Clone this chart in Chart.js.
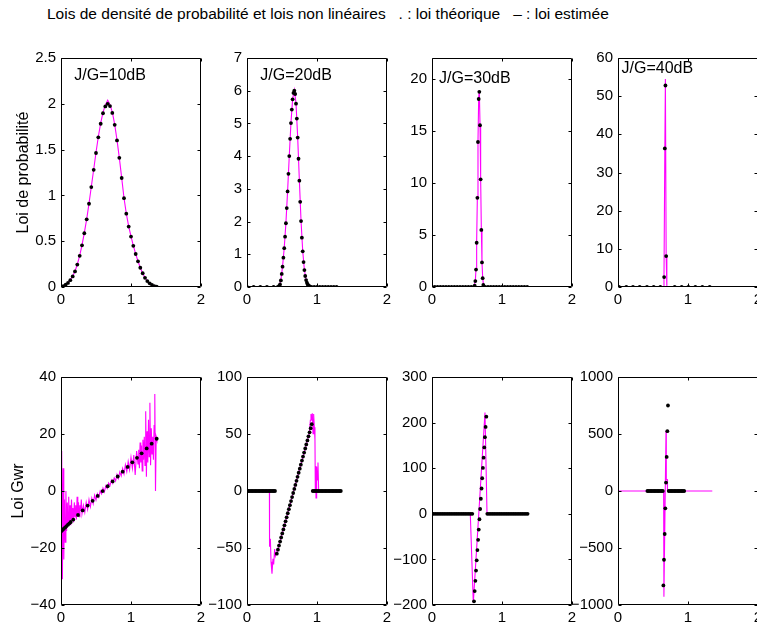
<!DOCTYPE html>
<html>
<head>
<meta charset="utf-8">
<script src="https://cdn.jsdelivr.net/npm/chart.js@4.4.1/dist/chart.umd.min.js"></script>
<style>
  html, body { margin: 0; padding: 0; background: #fff; overflow: hidden; width: 757px; height: 623px; }
  #page { position: relative; width: 757px; height: 623px; overflow: hidden; background: #fff; }
  #page canvas { position: absolute; }
  #titre { position: absolute; left: 47px; top: 6px; font: 15.5px "Liberation Sans", Arial, sans-serif;
           line-height: 1; white-space: pre; color: #000; }
</style>
</head>
<body>
<div id="page">
  <div id="titre">Lois de densité de probabilité et lois non linéaires   . : loi théorique   – : loi estimée</div>
</div>
<script>
// ---------- tick labels ----------
const xTicks = [0, 1, 2];
const yTicksDensite10 = [0, 0.5, 1, 1.5, 2, 2.5];
const yTicksDensite20 = [0, 1, 2, 3, 4, 5, 6, 7];
const yTicksDensite30 = [0, 5, 10, 15, 20];
const yTicksDensite40 = [0, 10, 20, 30, 40, 50, 60];
const yTicksGwr10 = [-40, -20, 0, 20, 40];
const yTicksGwr20 = [-100, -50, 0, 50, 100];
const yTicksGwr30 = [-200, -100, 0, 100, 200, 300];
const yTicksGwr40 = [-1000, -500, 0, 500, 1000];

// ---------- densité, J/G = 10 dB ----------
const densite10X = [0, 0.033, 0.067, 0.1, 0.133, 0.167, 0.2, 0.233, 0.267, 0.3, 0.333, 0.367, 0.4, 0.433,
  0.467, 0.5, 0.533, 0.567, 0.6, 0.633, 0.667, 0.7, 0.733, 0.767, 0.8, 0.833, 0.867, 0.9, 0.933, 0.967,
  1.0, 1.033, 1.067, 1.1, 1.133, 1.167, 1.2, 1.233, 1.267, 1.3, 1.333, 1.367];
const densite10Theo = [0, 0.01, 0.025, 0.045, 0.075, 0.115, 0.17, 0.245, 0.34, 0.455, 0.587, 0.739, 0.909, 1.091,
  1.279, 1.463, 1.634, 1.782, 1.897, 1.971, 2.0, 1.975, 1.9, 1.77, 1.6, 1.41, 1.19, 0.97, 0.8, 0.66,
  0.55, 0.45, 0.36, 0.28, 0.21, 0.15, 0.1, 0.065, 0.04, 0.022, 0.01, 0.004];
const densite10Est = [0, 0.012, 0.027, 0.046, 0.077, 0.118, 0.172, 0.247, 0.343, 0.458, 0.59, 0.742, 0.912, 1.094,
  1.283, 1.468, 1.64, 1.79, 1.906, 1.985, 2.04, 1.99, 1.91, 1.775, 1.605, 1.412, 1.192, 0.972, 0.802, 0.662,
  0.552, 0.452, 0.361, 0.281, 0.211, 0.151, 0.101, 0.066, 0.041, 0.023, 0.011, 0.005];

// ---------- densité, J/G = 20 dB ----------
const densite20X = [0, 0.095, 0.19, 0.285, 0.38, 0.44,
  0.46, 0.472, 0.484, 0.496, 0.508, 0.52, 0.532, 0.544, 0.556, 0.568, 0.58, 0.592, 0.604, 0.616, 0.628,
  0.64, 0.652, 0.664, 0.676, 0.688, 0.7, 0.712, 0.724, 0.736, 0.748, 0.76, 0.772, 0.784, 0.796, 0.808,
  0.82, 0.832, 0.844, 0.856, 0.868, 0.88, 0.892,
  0.92, 0.96, 1.0, 1.04, 1.08, 1.12, 1.16, 1.2, 1.24, 1.28];
const densite20Theo = [0, 0, 0, 0, 0, 0,
  0.03, 0.08, 0.2, 0.4, 0.62, 0.896, 1.187, 1.538, 1.948, 2.412, 2.921, 3.458, 4.002, 4.53, 5.012,
  5.422, 5.736, 5.933, 6.0, 5.899, 5.604, 5.147, 4.568, 3.92, 3.249, 2.603, 2.016, 1.509, 1.092, 0.763,
  0.516, 0.337, 0.213, 0.13, 0.076, 0.044, 0.024,
  0, 0, 0, 0, 0, 0, 0, 0, 0, 0];
const densite20EstX = [0, 0.44, 0.46, 0.484, 0.508, 0.532, 0.556, 0.58, 0.604, 0.628, 0.652, 0.676, 0.7,
  0.724, 0.748, 0.772, 0.796, 0.82, 0.844, 0.868, 0.892, 0.92, 1.3];
const densite20Est = [0, 0, 0.04, 0.21, 0.63, 1.2, 1.96, 2.93, 4.01, 5.02, 5.75, 6.02, 5.62,
  4.58, 3.26, 2.02, 1.1, 0.52, 0.22, 0.08, 0.03, 0, 0];

// ---------- densité, J/G = 30 dB ----------
const densite30X = [0, 0.04, 0.08, 0.12, 0.16, 0.2, 0.24, 0.28, 0.32, 0.36, 0.4, 0.44, 0.48, 0.52, 0.56, 0.6,
  0.61, 0.619, 0.629, 0.638, 0.648, 0.657, 0.667, 0.676, 0.686, 0.695, 0.705, 0.714, 0.724, 0.733,
  0.76, 0.8, 0.84, 0.88, 0.92, 0.96, 1.0, 1.04, 1.08, 1.12, 1.16, 1.2, 1.24, 1.28, 1.32, 1.36];
const densite30Theo = [0, 0, 0, 0, 0, 0, 0, 0, 0, 0, 0, 0, 0, 0, 0, 0,
  0.12, 0.57, 1.67, 4.25, 8.57, 13.93, 18.06, 18.75, 15.54, 10.34, 5.48, 2.36, 0.85, 0.2,
  0, 0, 0, 0, 0, 0, 0, 0, 0, 0, 0, 0, 0, 0, 0, 0];
const densite30EstX = [0, 0.6, 0.619, 0.629, 0.638, 0.648, 0.657, 0.667, 0.676, 0.686, 0.695, 0.705, 0.714,
  0.724, 0.738, 1.36];
const densite30Est = [0, 0, 0.6, 1.8, 4.4, 8.7, 14.0, 18.2, 18.9, 15.6, 10.4, 5.5, 2.4, 0.9, 0, 0];

// ---------- densité, J/G = 40 dB ----------
const densite40X = [0.014, 0.119, 0.214, 0.31, 0.414, 0.51, 0.605, 0.659, 0.669, 0.678, 0.688,
  0.81, 0.91, 1.005, 1.105, 1.205, 1.31];
const densite40Theo = [0, 0, 0, 0, 0, 0, 0, 2.6, 36.3, 52.8, 8.1, 0, 0, 0, 0, 0, 0];
const densite40EstX = [0, 0.645, 0.657, 0.669, 0.677, 0.688, 0.698, 1.31];
const densite40Est = [0, 0, 2.5, 36, 54.5, 8, 0, 0];

// ---------- loi Gwr, J/G = 10 dB ----------
const gwr10X = [0, 0.02, 0.04, 0.06, 0.08, 0.1, 0.12, 0.14, 0.176, 0.243, 0.31, 0.381, 0.452, 0.524, 0.595,
  0.667, 0.738, 0.81, 0.881, 0.952, 1.019, 1.086, 1.152, 1.224, 1.295, 1.367];
const gwr10Theo = [-14.2, -13.72, -13.25, -12.77, -12.3, -11.82, -11.34, -10.87, -10.01, -8.42, -6.82, -5.13,
  -3.44, -1.73, -0.04, 1.67, 3.36, 5.08, 6.77, 8.46, 10.05, 11.65, 13.22, 14.93, 16.62, 18.33];
const gwr10EstX = [0, 0.01, 0.02, 0.03, 0.04, 0.05, 0.06, 0.07, 0.08, 0.09, 0.1, 0.11, 0.12, 0.13, 0.14, 0.15,
  0.16, 0.17, 0.18, 0.19, 0.2, 0.21, 0.22, 0.23, 0.24, 0.25, 0.26, 0.27, 0.28, 0.29, 0.3,
  0.32, 0.34, 0.36, 0.38, 0.4, 0.42, 0.44, 0.46, 0.48, 0.5, 0.52, 0.54, 0.56, 0.58, 0.6, 0.62, 0.64, 0.66,
  0.68, 0.7, 0.72, 0.74, 0.76, 0.78, 0.8, 0.82, 0.84, 0.86, 0.88, 0.9, 0.92, 0.94, 0.96, 0.98, 1.0, 1.02,
  1.04, 1.06, 1.08, 1.1,
  1.11, 1.12, 1.13, 1.14, 1.15, 1.16, 1.17, 1.18, 1.19, 1.2, 1.21, 1.22, 1.23, 1.24, 1.25, 1.26, 1.27,
  1.28, 1.29, 1.3, 1.31, 1.32, 1.33, 1.34, 1.35, 1.36, 1.37];
const gwr10Est = [-14, 14, -31, 8, -24, -3, -18, 0, -14, -4, -12, -2, -11, -5, -12, -3,
  -10, -6, -11, -4, -9, -5, -10, -2, -8, -4, -9, -5, -7, -3, -8,
  -5, -7.5, -4, -6.5, -3, -5.5, -2.5, -4.5, -1.5, -3.2, -1, -2.2, 0, -1, 1, -0.3, 1.8, 0.9,
  2.8, 1.9, 3.8, 2.7, 4.6, 3.5, 5.8, 4.4, 6.7, 5.3, 7.9, 6.0, 9.2, 6.8, 10.3, 7.5, 11.8, 8.0,
  12.6, 5.6, 14.0, 9.5,
  14.5, 8, 17, 10, 16, 7, 18, 11, 19, 9, 28, 5, 21, 10, 25, 12, 31,
  9, 22, 13, 19, 11, 23, 34, 0, 19, 18];

// ---------- loi Gwr, J/G = 20 dB ----------
const gwr20X = [0, 0.02, 0.04, 0.06, 0.08, 0.1, 0.12, 0.14, 0.16, 0.18, 0.2, 0.22, 0.24, 0.26, 0.28, 0.3,
  0.32, 0.34, 0.36, 0.38, 0.4,
  0.426, 0.442, 0.457, 0.473, 0.488, 0.504, 0.52, 0.535, 0.551, 0.566, 0.582, 0.598, 0.613, 0.629, 0.644,
  0.66, 0.676, 0.691, 0.707, 0.722, 0.738, 0.754, 0.769, 0.785, 0.8, 0.816, 0.832, 0.847, 0.863, 0.878,
  0.894, 0.91, 0.925,
  0.94, 0.96, 0.98, 1.0, 1.02, 1.04, 1.06, 1.08, 1.1, 1.12, 1.14, 1.16, 1.18, 1.2, 1.22, 1.24, 1.26, 1.28,
  1.3, 1.32, 1.34];
const gwr20Theo = [0, 0, 0, 0, 0, 0, 0, 0, 0, 0, 0, 0, 0, 0, 0, 0, 0, 0, 0, 0, 0,
  -55, -51.45, -47.9, -44.35, -40.8, -37.25, -33.7, -30.15, -26.6, -23.05, -19.5, -15.95, -12.4, -8.85, -5.3,
  -1.75, 1.8, 5.35, 8.9, 12.45, 16, 19.55, 23.1, 26.65, 30.2, 33.75, 37.3, 40.85, 44.4, 47.95,
  51.5, 55.05, 58.6,
  0, 0, 0, 0, 0, 0, 0, 0, 0, 0, 0, 0, 0, 0, 0, 0, 0, 0, 0, 0, 0];
const gwr20EstX = [0, 0.32, 0.322, 0.334, 0.343, 0.357, 0.371, 0.381, 0.395, 0.405, 0.419, 0.43, 0.46, 0.5,
  0.54, 0.58, 0.62, 0.66, 0.7, 0.74, 0.78, 0.82, 0.86, 0.89, 0.905, 0.914, 0.924, 0.933, 0.943, 0.952,
  0.962, 0.971, 0.976, 0.981, 0.986, 0.995, 1.005, 1.014, 1.024, 1.34];
const gwr20Est = [0, 0, -48.8, -42, -62, -72.5, -59.5, -64.5, -51, -57, -54, -53.5, -46.5, -38,
  -29, -20, -11, -1.5, 7.5, 16.5, 25.5, 34.5, 43.5, 50.5, 62, 67.6, 61.8, 68.2, 50.3, 67.6,
  56, 44.5, 0, 22, -6, 21.4, 9.8, 24.9, 0, 0];

// ---------- loi Gwr, J/G = 30 dB ----------
const gwr30X = [0, 0.025, 0.05, 0.075, 0.1, 0.125, 0.15, 0.175, 0.2, 0.225, 0.25, 0.275, 0.3, 0.325, 0.35,
  0.375, 0.4, 0.425, 0.45, 0.475, 0.5, 0.525, 0.55, 0.575,
  0.6, 0.61, 0.62, 0.629, 0.639, 0.649, 0.659, 0.668, 0.678, 0.688, 0.698, 0.708, 0.717, 0.727, 0.737,
  0.747, 0.756, 0.766, 0.776,
  0.79, 0.815, 0.84, 0.865, 0.89, 0.915, 0.94, 0.965, 0.99, 1.015, 1.04, 1.065, 1.09, 1.115, 1.14, 1.165,
  1.19, 1.215, 1.24, 1.265, 1.29, 1.315, 1.34, 1.365];
const gwr30Theo = [0, 0, 0, 0, 0, 0, 0, 0, 0, 0, 0, 0, 0, 0, 0, 0, 0, 0, 0, 0, 0, 0, 0, 0,
  -192, -169.5, -147, -124.5, -102, -79.5, -57, -34.5, -12, 10.5, 33, 55.5, 78, 100.5, 123,
  145.5, 168, 190.5, 213,
  0, 0, 0, 0, 0, 0, 0, 0, 0, 0, 0, 0, 0, 0, 0, 0, 0, 0, 0, 0, 0, 0, 0, 0];
const gwr30EstX = [0, 0.547, 0.59, 0.757, 0.786, 1.37];
const gwr30Est = [0, 0, -195, 222, 0, 0];

// ---------- loi Gwr, J/G = 40 dB ----------
const gwr40X = [0.42, 0.44, 0.46, 0.48, 0.5, 0.52, 0.54, 0.56, 0.58, 0.6, 0.62, 0.64,
  0.648, 0.657, 0.667, 0.676, 0.686, 0.695, 0.705, 0.714,
  0.725, 0.745, 0.765, 0.785, 0.805, 0.825, 0.845, 0.865, 0.885, 0.905, 0.925, 0.945];
const gwr40Theo = [0, 0, 0, 0, 0, 0, 0, 0, 0, 0, 0, 0,
  -828, -603, -377, -152, 74, 299, 525, 750,
  0, 0, 0, 0, 0, 0, 0, 0, 0, 0, 0, 0];
const gwr40EstX = [0, 0.652, 0.656, 0.686, 0.69, 0.703, 0.707, 1.347];
const gwr40Est = [0, 0, -928, 530, 100, 100, 0, 0];

// ---------- layout of the 2 x 4 grid ----------
const FONT = '"Liberation Sans", Arial, Helvetica, sans-serif';
const AXIS_W = 61, AXIS_H = 30, PAD_T = 10, PAD_R = 16, PLOT_W = 140;
const ROW_TOP = [54, 373], ROW_H = [233, 232];
const COL_LEFT = [61, 247, 432, 618];

const panels = [
  { row: 0, col: 0, tx: densite10X, ty: densite10Theo, ex: densite10X, ey: densite10Est, min: 0, max: 2.5,
    ticks: yTicksDensite10, label: 'J/G=10dB', at: [0.19, 2.31], yTitle: 'Loi de probabilité', yTitlePad: 14 },
  { row: 0, col: 1, tx: densite20X, ty: densite20Theo, ex: densite20EstX, ey: densite20Est, min: 0, max: 7,
    ticks: yTicksDensite20, label: 'J/G=20dB', at: [0.19, 6.46] },
  { row: 0, col: 2, tx: densite30X, ty: densite30Theo, ex: densite30EstX, ey: densite30Est, min: 0, max: 22,
    ticks: yTicksDensite30, label: 'J/G=30dB', at: [0.1, 20.0] },
  { row: 0, col: 3, tx: densite40X, ty: densite40Theo, ex: densite40EstX, ey: densite40Est, min: 0, max: 60,
    ticks: yTicksDensite40, label: 'J/G=40dB', at: [0.05, 57.2] },
  { row: 1, col: 0, tx: gwr10X, ty: gwr10Theo, ex: gwr10EstX, ey: gwr10Est, min: -40, max: 40,
    ticks: yTicksGwr10, yTitle: 'Loi Gwr', yTitlePad: 8.8 },
  { row: 1, col: 1, tx: gwr20X, ty: gwr20Theo, ex: gwr20EstX, ey: gwr20Est, min: -100, max: 100,
    ticks: yTicksGwr20 },
  { row: 1, col: 2, tx: gwr30X, ty: gwr30Theo, ex: gwr30EstX, ey: gwr30Est, min: -200, max: 300,
    ticks: yTicksGwr30 },
  { row: 1, col: 3, tx: gwr40X, ty: gwr40Theo, ex: gwr40EstX, ey: gwr40Est, min: -1000, max: 1000,
    ticks: yTicksGwr40 }
];

const toPoints = (xs, ys) => xs.map((x, i) => ({ x: x, y: ys[i] }));
const fmt = v => (v < 0 ? '\u2212' + Math.abs(v) : String(v));

// Box around the axes, inward tick marks on all four sides, and the J/G caption.
const cadre = {
  id: 'cadre',
  afterDraw(chart, args, opts) {
    const { ctx, chartArea: a, scales: { x, y } } = chart;
    const TL = 3;
    const L = Math.round(a.left) + 0.5, R = Math.round(a.right) - 0.5;
    const T = Math.round(a.top) + 0.5, B = Math.round(a.bottom) - 0.5;
    ctx.save();
    ctx.strokeStyle = '#000';
    ctx.lineWidth = 1;
    ctx.beginPath();
    ctx.rect(L, T, R - L, B - T);
    x.ticks.forEach(t => {
      const px = Math.round(x.getPixelForValue(t.value)) + 0.5;
      ctx.moveTo(px, B); ctx.lineTo(px, B - TL);
      ctx.moveTo(px, T); ctx.lineTo(px, T + TL);
    });
    y.ticks.forEach(t => {
      const py = Math.round(y.getPixelForValue(t.value)) + 0.5;
      ctx.moveTo(L, py); ctx.lineTo(L + TL, py);
      ctx.moveTo(R, py); ctx.lineTo(R - TL, py);
    });
    ctx.stroke();
    if (opts.label) {
      ctx.fillStyle = '#000';
      ctx.font = '16px ' + FONT;
      ctx.textAlign = 'left';
      ctx.textBaseline = 'middle';
      ctx.fillText(opts.label, x.getPixelForValue(opts.at[0]), y.getPixelForValue(opts.at[1]));
    }
    ctx.restore();
  }
};

Chart.defaults.color = '#000';
Chart.defaults.font.family = FONT;

const page = document.getElementById('page');
panels.forEach(p => {
  const h = ROW_H[p.row];
  const W = AXIS_W + PLOT_W + PAD_R, H = PAD_T + h + AXIS_H;
  const cv = document.createElement('canvas');
  cv.width = W; cv.height = H;
  cv.style.width = W + 'px'; cv.style.height = H + 'px';
  cv.style.left = (COL_LEFT[p.col] - AXIS_W) + 'px';
  cv.style.top = (ROW_TOP[p.row] - PAD_T) + 'px';
  page.appendChild(cv);

  new Chart(cv, {
    type: 'scatter',
    data: {
      datasets: [
        { data: toPoints(p.tx, p.ty), showLine: false, pointRadius: 1.9, pointHoverRadius: 0,
          pointBackgroundColor: '#000', pointBorderWidth: 0, borderWidth: 0 },
        { data: toPoints(p.ex, p.ey), showLine: true, pointRadius: 0, pointHoverRadius: 0,
          borderColor: '#ff00ff', borderWidth: 1.1, tension: 0, fill: false }
      ]
    },
    options: {
      responsive: false,
      animation: false,
      events: [],
      layout: { padding: { left: 0, top: PAD_T, right: PAD_R, bottom: 0 } },
      plugins: {
        legend: { display: false },
        tooltip: { enabled: false },
        cadre: { label: p.label, at: p.at }
      },
      scales: {
        x: {
          type: 'linear', min: 0, max: 2,
          afterBuildTicks: s => { s.ticks = xTicks.map(v => ({ value: v })); },
          afterFit: s => { s.height = AXIS_H; },
          grid: { display: false, drawTicks: false, tickLength: 0 }, border: { display: false },
          ticks: { padding: 4, autoSkip: false, maxRotation: 0, color: '#000',
                   font: { size: 15, family: FONT }, callback: fmt }
        },
        y: {
          type: 'linear', min: p.min, max: p.max,
          afterBuildTicks: s => { s.ticks = p.ticks.map(v => ({ value: v })); },
          afterFit: s => { s.width = AXIS_W; },
          grid: { display: false, drawTicks: false, tickLength: 0 }, border: { display: false },
          ticks: { padding: 5, autoSkip: false, color: '#000',
                   font: { size: 15, family: FONT }, callback: fmt },
          title: {
            display: !!p.yTitle, text: p.yTitle || '', color: '#000',
            font: { size: 16, family: FONT }, padding: { top: p.yTitlePad || 0, bottom: 0 }
          }
        }
      }
    },
    plugins: [cadre]
  });
});
</script>
</body>
</html>
